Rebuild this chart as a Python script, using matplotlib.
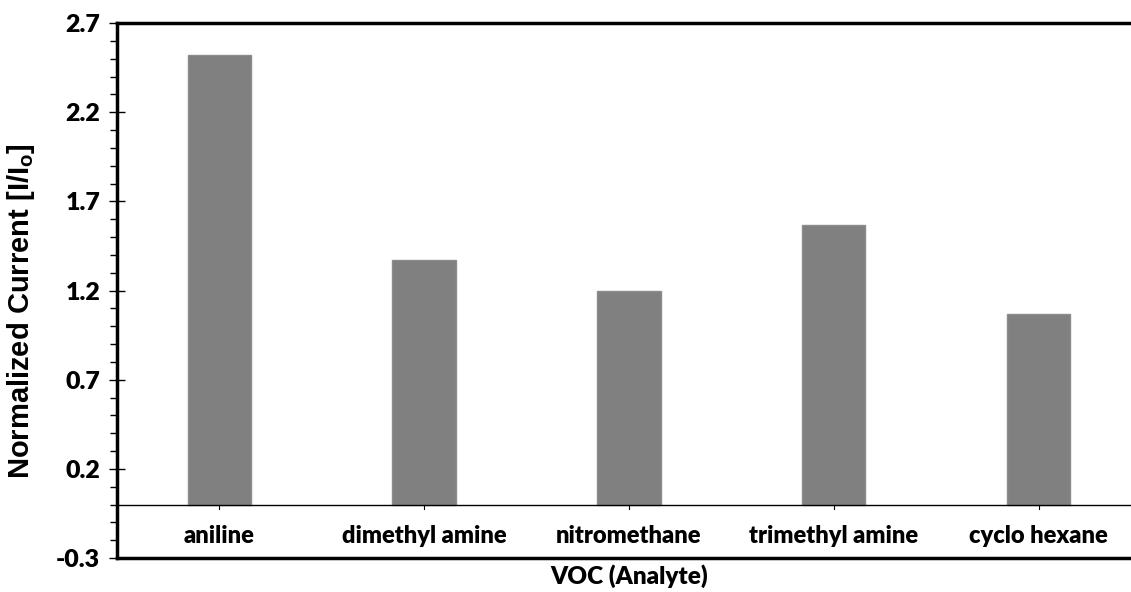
import numpy as np
import matplotlib.pyplot as plt
from matplotlib.ticker import MultipleLocator

plt.rcParams['font.family'] = ['Lato', 'DejaVu Sans']

analytes = ['aniline', 'dimethyl amine', 'nitromethane', 'trimethyl amine', 'cyclo hexane']
current = [2.52, 1.37, 1.20, 1.57, 1.07]
yticks = [-0.3, 0.2, 0.7, 1.2, 1.7, 2.2, 2.7]

fig = plt.figure(figsize=(11.31, 5.92), dpi=100)
ax = fig.add_axes([0.1034, 0.0574, 0.9054, 0.9036])

x = np.arange(len(analytes))
ax.bar(x, current, width=0.31, color='#808080', edgecolor='#8c8c8c', linewidth=1, zorder=2)

ax.set_xlim(-0.5, len(analytes) - 0.5)
ax.set_ylim(-0.3, 2.7)

# zero line with small category ticks, labels sit between it and the frame
ax.axhline(0, color='black', linewidth=1, zorder=3)
ax.set_xticks(x)
ax.set_xticklabels([])
ax.tick_params(axis='x', length=0)
for xi, name in zip(x, analytes):
    ax.plot([xi, xi], [0, -0.025], color='black', lw=0.8, zorder=3)
    ax.text(xi, -0.175, name, ha='center', va='center', fontsize=17, fontweight='heavy')

# y axis
ax.yaxis.set_minor_locator(MultipleLocator(0.1))
ax.set_yticks(yticks)
ax.set_yticklabels(['%.1f' % v for v in yticks], fontsize=18, fontweight='heavy')
ax.tick_params(axis='y', which='major', direction='inout', length=12, width=1, pad=6)
ax.tick_params(axis='y', which='minor', direction='out', length=5, width=1)

for side in ['left', 'top', 'bottom']:
    ax.spines[side].set_linewidth(2.5)
ax.spines['right'].set_visible(False)

ax.set_ylabel('Normalized Current [I/I$_\\mathregular{o}$]', fontsize=21, fontweight='bold',
              fontfamily='Liberation Sans')
ax.yaxis.set_label_coords(-0.078, 0.462)
ax.set_xlabel('VOC (Analyte)', fontsize=17.5, fontweight='heavy', labelpad=1)

plt.savefig('out.png', dpi=100)
